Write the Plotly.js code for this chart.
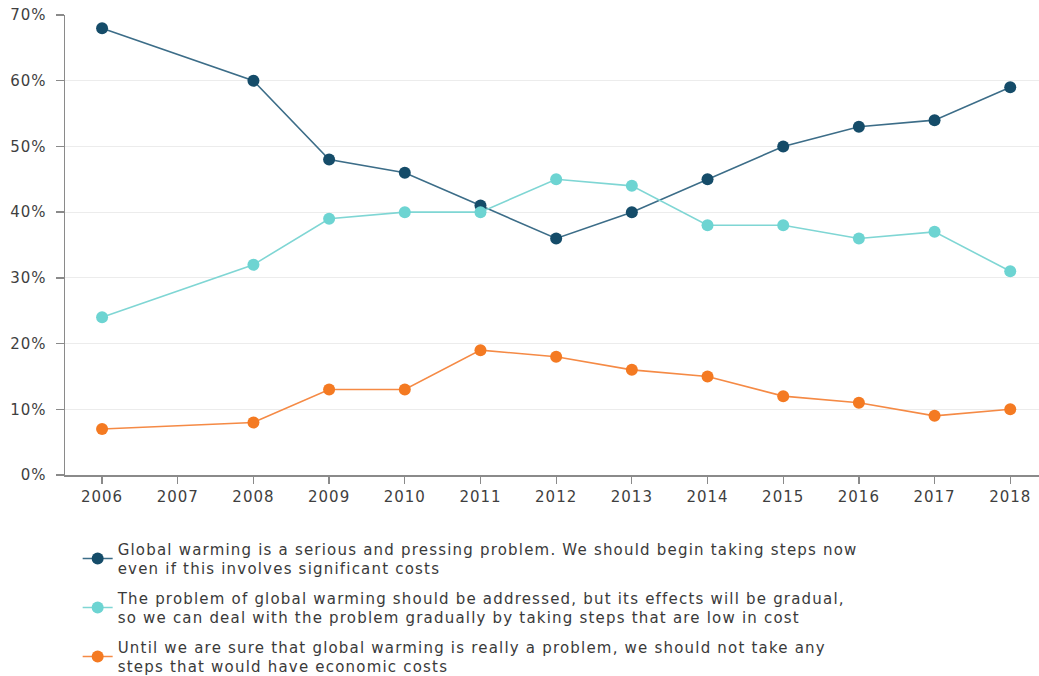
<!DOCTYPE html>
<html>
<head>
<meta charset="utf-8">
<script src="https://cdn.plot.ly/plotly-3.0.1.min.js"></script>
<style>
html,body{margin:0;padding:0;background:#fff;}
#chart{width:1039px;height:676px;}
.legendtext{letter-spacing:1.2px;}
.xtick text,.ytick text{letter-spacing:1px;}
</style>
</head>
<body>
<div id="chart"></div>
<script>
const years = [2006, 2008, 2009, 2010, 2011, 2012, 2013, 2014, 2015, 2016, 2017, 2018];
const tickYears = [2006, 2007, 2008, 2009, 2010, 2011, 2012, 2013, 2014, 2015, 2016, 2017, 2018];
const seriousNow = [68, 60, 48, 46, 41, 36, 40, 45, 50, 53, 54, 59];
const gradualLowCost = [24, 32, 39, 40, 40, 45, 44, 38, 38, 36, 37, 31];
const waitUntilSure = [7, 8, 13, 13, 19, 18, 16, 15, 12, 11, 9, 10];
const seriesNames = [
  "Global warming is a serious and pressing problem. We should begin taking steps now<br>even if this involves significant costs",
  "The problem of global warming should be addressed, but its effects will be gradual,<br>so we can deal with the problem gradually by taking steps that are low in cost",
  "Until we are sure that global warming is really a problem, we should not take any<br>steps that would have economic costs"
];
const lineColors = ["#3c6d88", "#7fd6d4", "#f58a45"];
const markerColors = ["#154c69", "#6dd4d2", "#f47a22"];
const seriesValues = [seriousNow, gradualLowCost, waitUntilSure];

const traces = seriesValues.map((vals, i) => ({
  x: years, y: vals, type: "scatter", mode: "lines+markers",
  name: seriesNames[i], legendgroup: "g" + i,
  line: {color: lineColors[i], width: 1.6},
  marker: {color: markerColors[i], size: 12}
}));

const font = "DejaVu Sans, sans-serif";
const layout = {
  width: 1039, height: 676,
  margin: {l: 65, r: 0, t: 15, b: 201, autoexpand: false},
  paper_bgcolor: "#fff", plot_bgcolor: "#fff",
  showlegend: true,
  legend: {
    x: 0.013, xanchor: "left", y: -0.125, yanchor: "top",
    font: {family: font, size: 15, color: "#3a3a3a"},
    tracegroupgap: 7, traceorder: "grouped", bgcolor: "rgba(0,0,0,0)"
  },
  xaxis: {
    range: [2005.51, 2018.38], tickvals: tickYears, ticktext: tickYears.map(String),
    showgrid: false, zeroline: false, showline: true, linecolor: "#8a8a8a", linewidth: 1.5,
    ticks: "outside", ticklen: 7, tickcolor: "#8a8a8a", tickwidth: 1.3,
    tickfont: {family: font, size: 15, color: "#3f3f3f"}
  },
  yaxis: {
    range: [0, 70], dtick: 10, ticksuffix: "%",
    showgrid: true, gridcolor: "#ececec", gridwidth: 1, zeroline: false,
    showline: true, linecolor: "#8a8a8a", linewidth: 1.5,
    ticks: "outside", ticklen: 8, tickcolor: "#8a8a8a", tickwidth: 1.3,
    ticklabelstandoff: 6,
    tickfont: {family: font, size: 15, color: "#3f3f3f"}
  }
};
Plotly.newPlot("chart", traces, layout, {displayModeBar: false, staticPlot: true});
</script>
</body>
</html>
